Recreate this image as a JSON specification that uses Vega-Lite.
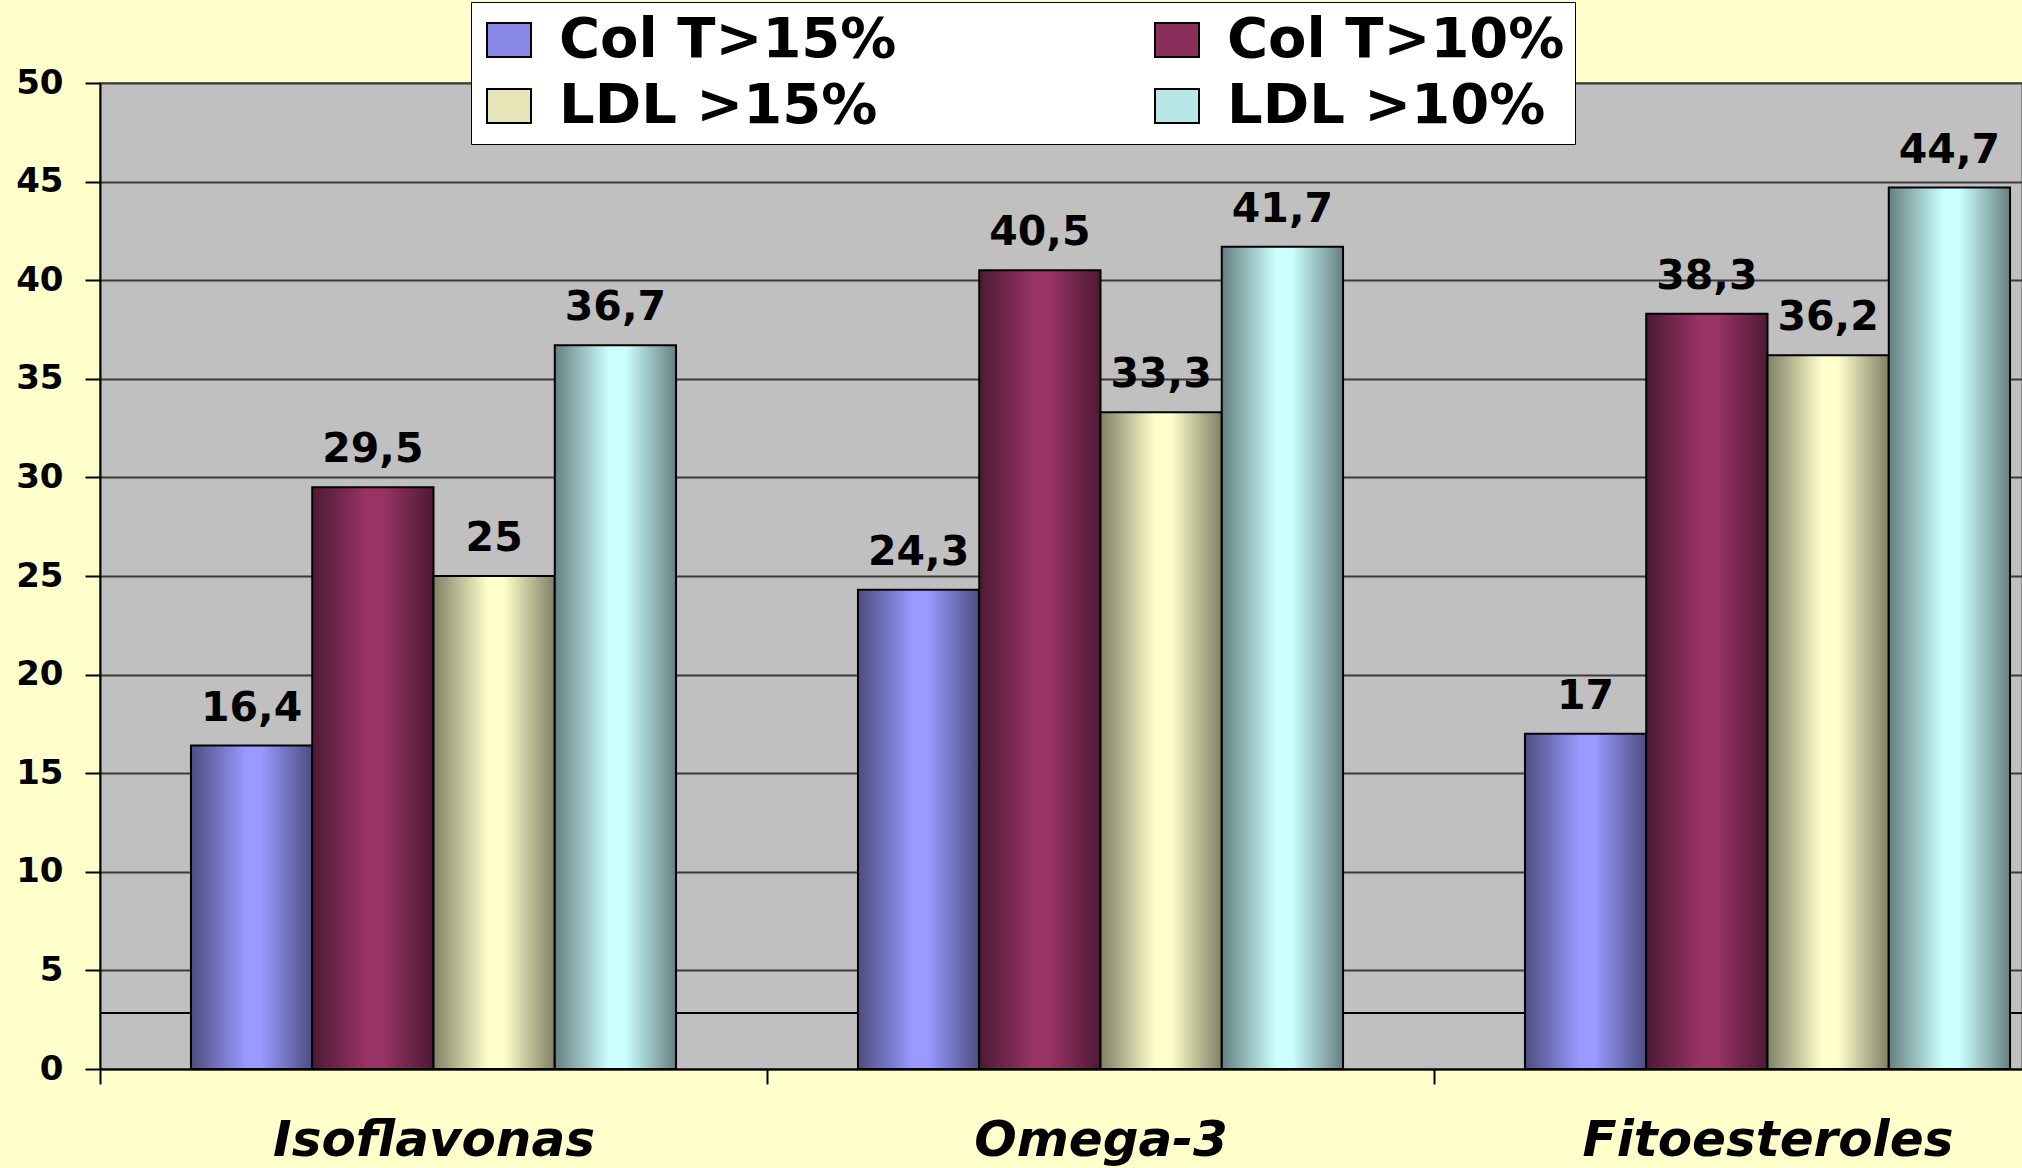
{
  "$schema": "https://vega.github.io/schema/vega-lite/v6.json",
  "width": 1922,
  "height": 986,
  "autosize": {"type": "none"},
  "padding": {"left": 100, "top": 83, "right": 0, "bottom": 99},
  "background": "#FFFFCC",
  "config": {
    "font": "DejaVu Sans",
    "locale": {
      "number": {"decimal": ",", "thousands": ".", "grouping": [3], "currency": ["", " €"]}
    },
    "view": {"fill": "#C0C0C0", "stroke": "#8a8a8a", "strokeWidth": 2}
  },
  "datasets": {
    "resultados": [
      {"grupo": "Isoflavonas", "serie": "Col T>15%", "pct": 16.4},
      {"grupo": "Isoflavonas", "serie": "Col T>10%", "pct": 29.5},
      {"grupo": "Isoflavonas", "serie": "LDL >15%", "pct": 25},
      {"grupo": "Isoflavonas", "serie": "LDL >10%", "pct": 36.7},
      {"grupo": "Omega-3", "serie": "Col T>15%", "pct": 24.3},
      {"grupo": "Omega-3", "serie": "Col T>10%", "pct": 40.5},
      {"grupo": "Omega-3", "serie": "LDL >15%", "pct": 33.3},
      {"grupo": "Omega-3", "serie": "LDL >10%", "pct": 41.7},
      {"grupo": "Fitoesteroles", "serie": "Col T>15%", "pct": 17},
      {"grupo": "Fitoesteroles", "serie": "Col T>10%", "pct": 38.3},
      {"grupo": "Fitoesteroles", "serie": "LDL >15%", "pct": 36.2},
      {"grupo": "Fitoesteroles", "serie": "LDL >10%", "pct": 44.7}
    ],
    "linea": [{"nivel": 2.84}]
  },
  "encoding": {
    "x": {
      "field": "grupo",
      "type": "nominal",
      "sort": ["Isoflavonas", "Omega-3", "Fitoesteroles"],
      "scale": {"range": [0, 2001], "paddingInner": 0, "paddingOuter": 0},
      "axis": {
        "title": null,
        "labelAngle": 0,
        "labelLimit": 0,
        "labelFont": "DejaVu Sans",
        "labelFontSize": 50,
        "labelFontWeight": "bold",
        "labelFontStyle": "italic",
        "labelColor": "#000000",
        "labelBaseline": "alphabetic",
        "labelPadding": 71,
        "tickBand": "extent",
        "ticks": true,
        "tickSize": 15,
        "tickColor": "#000000",
        "tickWidth": 2,
        "domainColor": "#000000",
        "domainWidth": 2,
        "grid": false
      }
    },
    "y": {
      "field": "pct",
      "type": "quantitative",
      "scale": {"domain": [0, 50], "nice": false},
      "axis": {
        "title": null,
        "values": [0, 5, 10, 15, 20, 25, 30, 35, 40, 45, 50],
        "labelFont": "DejaVu Sans",
        "labelFontSize": 34,
        "labelFontWeight": "bold",
        "labelColor": "#000000",
        "labelPadding": 22,
        "tickSize": 15,
        "tickColor": "#000000",
        "tickWidth": 2,
        "domainColor": "#000000",
        "domainWidth": 2,
        "grid": true,
        "gridColor": "#3a3a3a",
        "gridWidth": 2
      }
    }
  },
  "layer": [
    {
      "data": {"name": "linea"},
      "mark": {"type": "rule", "color": "#000000", "strokeWidth": 2},
      "encoding": {
        "x": null,
        "y": {"field": "nivel", "type": "quantitative"}
      }
    },
    {
      "data": {"name": "resultados"},
      "mark": {"type": "bar", "stroke": "#000000", "strokeWidth": 2},
      "encoding": {
        "xOffset": {
          "field": "serie",
          "sort": ["Col T>15%", "Col T>10%", "LDL >15%", "LDL >10%"],
          "scale": {"paddingInner": 0, "paddingOuter": 0.75}
        },
        "color": {
          "field": "serie",
          "type": "nominal",
          "condition": [
            {"test": "datum.serie === 'Col T>15%'", "value": {"gradient": "linear", "x1": 0, "y1": 0, "x2": 1, "y2": 0, "stops": [
              {"offset": 0, "color": "#4D4D80"}, {"offset": 0.45, "color": "#9999FF"},
              {"offset": 0.58, "color": "#9999FF"}, {"offset": 1, "color": "#4D4D80"}]}},
            {"test": "datum.serie === 'Col T>10%'", "value": {"gradient": "linear", "x1": 0, "y1": 0, "x2": 1, "y2": 0, "stops": [
              {"offset": 0, "color": "#4D1A33"}, {"offset": 0.45, "color": "#993366"},
              {"offset": 0.58, "color": "#993366"}, {"offset": 1, "color": "#4D1A33"}]}},
            {"test": "datum.serie === 'LDL >15%'", "value": {"gradient": "linear", "x1": 0, "y1": 0, "x2": 1, "y2": 0, "stops": [
              {"offset": 0, "color": "#808066"}, {"offset": 0.45, "color": "#FFFFCC"},
              {"offset": 0.58, "color": "#FFFFCC"}, {"offset": 1, "color": "#808066"}]}},
            {"test": "datum.serie === 'LDL >10%'", "value": {"gradient": "linear", "x1": 0, "y1": 0, "x2": 1, "y2": 0, "stops": [
              {"offset": 0, "color": "#668080"}, {"offset": 0.45, "color": "#CCFFFF"},
              {"offset": 0.58, "color": "#CCFFFF"}, {"offset": 1, "color": "#668080"}]}}
          ],
          "scale": {
            "domain": ["Col T>15%", "LDL >15%", "Col T>10%", "LDL >10%"],
            "range": ["#8A8AE6", "#E6E6B8", "#8A2E5C", "#B8E6E6"]
          },
          "legend": {
            "title": null,
            "orient": "none",
            "legendX": 371,
            "legendY": -81,
            "columns": 2,
            "fillColor": "#FFFFFF",
            "strokeColor": "#000000",
            "padding": 10,
            "rowPadding": 10,
            "columnPadding": 252,
            "symbolType": "M-1,-0.773H1V0.773H-1Z",
            "symbolSize": 1936,
            "symbolStrokeColor": "#000000",
            "symbolStrokeWidth": 2,
            "labelFont": "DejaVu Sans",
            "labelFontSize": 56,
            "labelFontWeight": "bold",
            "labelColor": "#000000",
            "labelOffset": 22,
            "labelLimit": 0,
            "encode": {
              "symbols": {
                "update": {
                  "fill": [
                    {"test": "datum.value === 'Col T>15%'", "value": {"gradient": "linear", "x1": 0, "y1": 0, "x2": 1, "y2": 0, "stops": [
                      {"offset": 0, "color": "#4D4D80"}, {"offset": 0.45, "color": "#9999FF"},
                      {"offset": 0.58, "color": "#9999FF"}, {"offset": 1, "color": "#4D4D80"}]}},
                    {"test": "datum.value === 'Col T>10%'", "value": {"gradient": "linear", "x1": 0, "y1": 0, "x2": 1, "y2": 0, "stops": [
                      {"offset": 0, "color": "#4D1A33"}, {"offset": 0.45, "color": "#993366"},
                      {"offset": 0.58, "color": "#993366"}, {"offset": 1, "color": "#4D1A33"}]}},
                    {"test": "datum.value === 'LDL >15%'", "value": {"gradient": "linear", "x1": 0, "y1": 0, "x2": 1, "y2": 0, "stops": [
                      {"offset": 0, "color": "#808066"}, {"offset": 0.45, "color": "#FFFFCC"},
                      {"offset": 0.58, "color": "#FFFFCC"}, {"offset": 1, "color": "#808066"}]}},
                    {"value": {"gradient": "linear", "x1": 0, "y1": 0, "x2": 1, "y2": 0, "stops": [
                      {"offset": 0, "color": "#668080"}, {"offset": 0.45, "color": "#CCFFFF"},
                      {"offset": 0.58, "color": "#CCFFFF"}, {"offset": 1, "color": "#668080"}]}}
                  ],
                  "stroke": {"value": "#000000"},
                  "strokeWidth": {"value": 2}
                }
              }
            }
          }
        }
      }
    },
    {
      "data": {"name": "resultados"},
      "mark": {
        "type": "text",
        "baseline": "alphabetic",
        "dy": -25,
        "font": "DejaVu Sans",
        "fontSize": 41,
        "fontWeight": "bold",
        "color": "#000000"
      },
      "encoding": {
        "xOffset": {
          "field": "serie",
          "sort": ["Col T>15%", "Col T>10%", "LDL >15%", "LDL >10%"],
          "scale": {"paddingInner": 0, "paddingOuter": 0.75}
        },
        "text": {"field": "pct", "type": "quantitative", "format": ".3~r"}
      }
    }
  ]
}
